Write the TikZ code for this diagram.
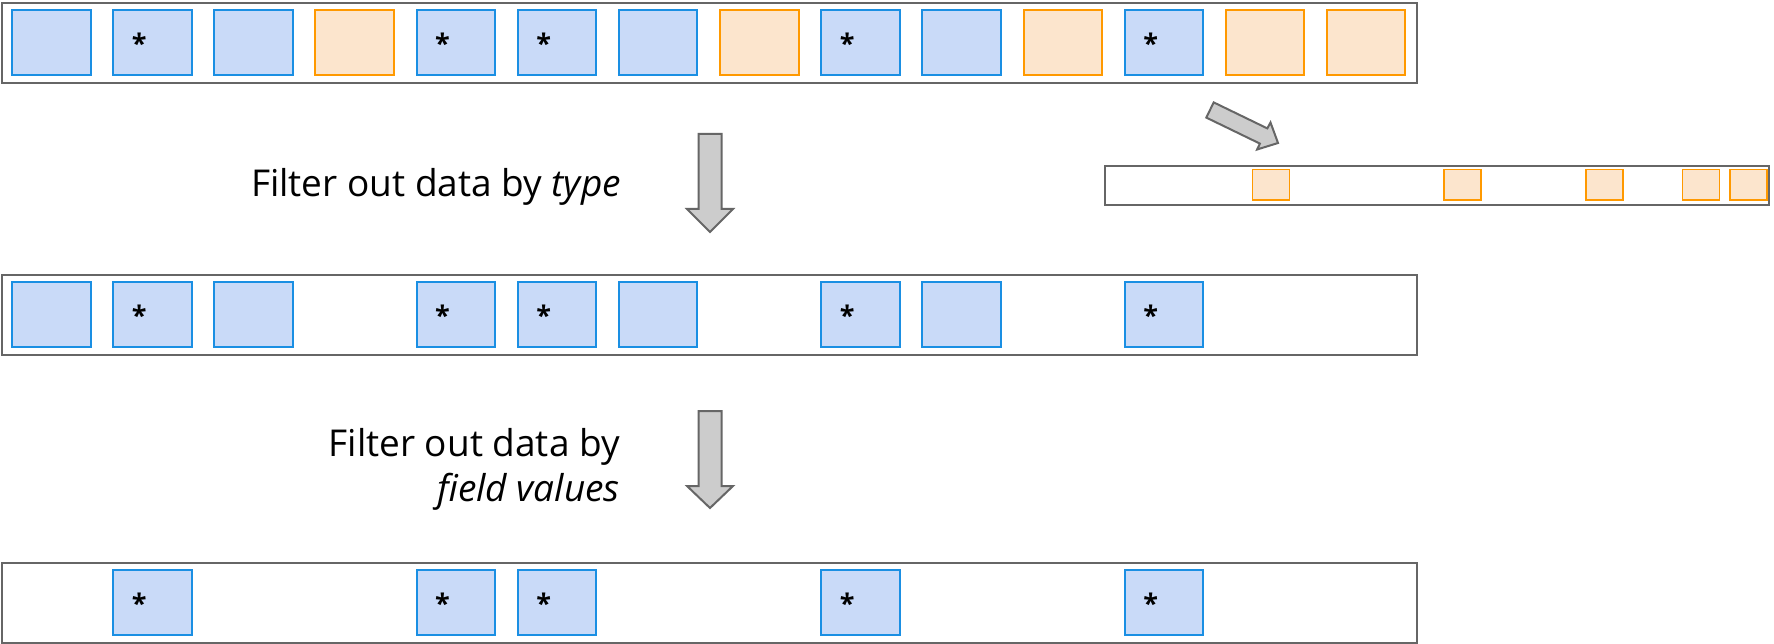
\documentclass[tikz,border=0pt]{standalone}
\usepackage{fontspec}
\setmainfont{Open Sans}
\usetikzlibrary{calc}
\definecolor{bfill}{HTML}{C9DAF8}
\definecolor{bline}{HTML}{1A8FE3}
\definecolor{ofill}{HTML}{FCE5CD}
\definecolor{oline}{HTML}{FF9900}
\definecolor{gline}{HTML}{666666}
\definecolor{afill}{HTML}{CCCCCC}
\begin{document}
\begin{tikzpicture}[x=1pt,y=-1pt,
  container/.style={draw=gline, line width=2pt, fill=white, rectangle, inner sep=0pt, outer sep=0pt, anchor=north west},
  bbox/.style={draw=bline, fill=bfill, line width=2pt, rectangle, minimum width=78.5pt, minimum height=65pt, inner sep=0pt, outer sep=0pt, anchor=north west},
  obox/.style={draw=oline, fill=ofill, line width=2pt, rectangle, minimum width=78.5pt, minimum height=65pt, inner sep=0pt, outer sep=0pt, anchor=north west},
  sbox/.style={draw=oline, fill=ofill, line width=1.8pt, rectangle, minimum width=37pt, minimum height=30.7pt, inner sep=0pt, outer sep=0pt, anchor=north west},
  astr/.style={font=\fontsize{27}{27}\selectfont\bfseries, inner sep=0pt, anchor=base},
  blockarrow/.style={draw=gline, fill=afill, line width=2pt, line join=miter},
  lbl/.style={font=\fontsize{37}{45}\selectfont, inner sep=0pt, anchor=base east}
]
\useasboundingbox (0,0) rectangle (1774,644);
\fill[white] (0,0) rectangle (1774,644);

% containers
\node[container, minimum width=1415pt, minimum height=80pt] (row1) at (2,3) {};
\node[container, minimum width=1415pt, minimum height=80pt] (row2) at (2,275) {};
\node[container, minimum width=1415pt, minimum height=80pt] (row3) at (2,563) {};
\node[container, minimum width=664pt, minimum height=39pt] (row4) at (1105,166) {};

% row 1
\foreach \i/\st in {0/bbox,1/bbox,2/bbox,3/obox,4/bbox,5/bbox,6/bbox,7/obox,8/bbox,9/bbox,10/obox,11/bbox,12/obox,13/obox}
  \node[\st] (r1b\i) at ({12+101.15*\i},10) {};
\foreach \i in {1,4,5,8,11}
  \node[astr] (r1s\i) at ($(r1b\i.north west)+(26,43.5)$) {*};

% row 2
\foreach \i in {0,1,2,4,5,6,8,9,11}
  \node[bbox] (r2b\i) at ({12+101.15*\i},282) {};
\foreach \i in {1,4,5,8,11}
  \node[astr] (r2s\i) at ($(r2b\i.north west)+(26,43.5)$) {*};

% row 3
\foreach \i in {1,4,5,8,11}
  \node[bbox] (r3b\i) at ({12+101.15*\i},570) {};
\foreach \i in {1,4,5,8,11}
  \node[astr] (r3s\i) at ($(r3b\i.north west)+(26,43.5)$) {*};

% small orange row (row 1's orange items at 0.472 scale)
\foreach \x [count=\k] in {1252.5,1443.7,1586.2,1682.4,1730}
  \node[sbox] (r4b\k) at (\x,169.5) {};

% labels
\node[lbl] (t1) at (621,197) {Filter out data by \textit{type}};
\node[lbl] (t2a) at (620,456) {Filter out data by};
\node[lbl] (t2b) at (620,501) {\textit{field values}};

% block arrows
\draw[blockarrow] (698.5,134) -- (721.5,134) -- (721.5,209) -- (733,209) -- (710,232) -- (687,209) -- (698.5,209) -- cycle;
\draw[blockarrow] (698.5,411) -- (721.5,411) -- (721.5,486) -- (733,486) -- (710,508) -- (687,486) -- (698.5,486) -- cycle;
\draw[blockarrow] (1213.7,102.4) -- (1267.3,128.4) -- (1270.5,122.5) -- (1278,143) -- (1257.1,149.5) -- (1259.9,143.6) -- (1206.3,117.6) -- cycle;
\end{tikzpicture}
\end{document}
